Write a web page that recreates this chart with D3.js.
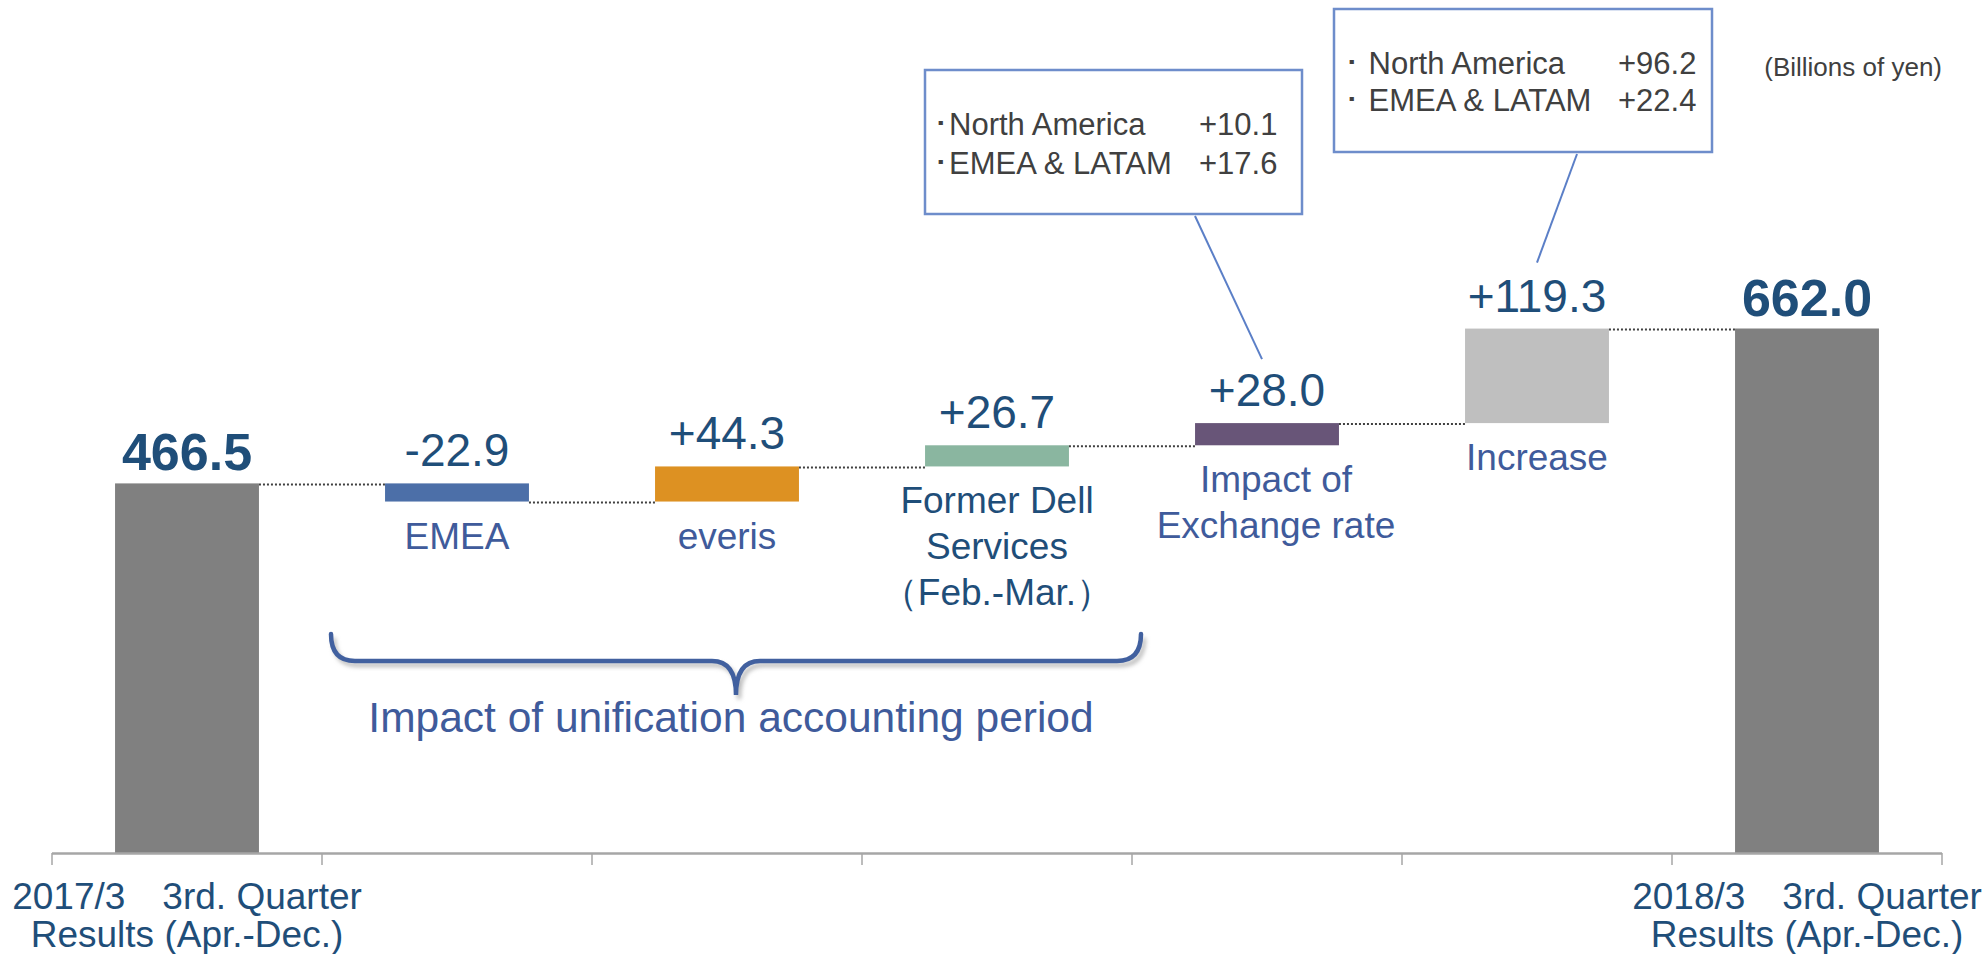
<!DOCTYPE html>
<html>
<head>
<meta charset="utf-8">
<script src="https://cdn.jsdelivr.net/npm/d3@7"></script>
<style>
  body { margin: 0; background: #fff; }
  svg { display: block; font-family: "Liberation Sans", Arial, sans-serif; }
</style>
</head>
<body>
<script>
// waterfall data
var categories = ["start", "EMEA", "everis", "Dell", "FX", "Increase", "end"];
var labelLines = [
  ["2017/3\u30003rd. Quarter", "Results (Apr.-Dec.)"],
  ["EMEA"],
  ["everis"],
  ["Former Dell", "Services", "\uFF08Feb.-Mar.\uFF09"],
  ["Impact of", "Exchange rate"],
  ["Increase"],
  ["2018/3\u30003rd. Quarter", "Results (Apr.-Dec.)"]
];
var values = [466.5, -22.9, 44.3, 26.7, 28.0, 119.3, 662.0];
var isTotal = [true, false, false, false, false, false, true];
var valueLabels = ["466.5", "-22.9", "+44.3", "+26.7", "+28.0", "+119.3", "662.0"];

// callout breakdowns
var fxRegions = ["North America", "EMEA & LATAM"];
var fxValues = ["+10.1", "+17.6"];
var incRegions = ["North America", "EMEA & LATAM"];
var incValues = ["+96.2", "+22.4"];

var unitLabel = "(Billions of yen)";
var braceLabel = "Impact of unification accounting period";

var width = 1987, height = 954;

var svg = d3.select("body").append("svg")
    .attr("width", width)
    .attr("height", height);

var x = d3.scaleBand()
    .domain(categories)
    .range([52, 1942])
    .paddingInner(0.467)
    .paddingOuter(0.2335);

var y = d3.scaleLinear()
    .domain([0, 662])
    .range([853, 328.5]);

var color = d3.scaleOrdinal()
    .domain(categories)
    .range(["#808080", "#4C6FA8", "#DD9122", "#8AB6A0", "#685578", "#BFBFBF", "#808080"]);

// running totals
var running = 0;
var bars = categories.map(function(c, i) {
  var lo, hi;
  if (isTotal[i]) {
    lo = 0; hi = values[i]; running = values[i];
  } else {
    var prev = running;
    running = prev + values[i];
    lo = Math.min(prev, running); hi = Math.max(prev, running);
  }
  return { cat: c, lo: lo, hi: hi, end: running, i: i };
});

var bw = x.bandwidth();
var gap = x.step() - bw;

// connectors
svg.append("g").selectAll("line")
    .data(bars.slice(0, -1))
    .enter().append("line")
    .attr("x1", function(d) { return x(d.cat) + bw; })
    .attr("x2", function(d) { return x(categories[d.i + 1]); })
    .attr("y1", function(d) { return y(d.end) + 1; })
    .attr("y2", function(d) { return y(d.end) + 1; })
    .attr("stroke", "#404040")
    .attr("stroke-width", 2)
    .attr("stroke-dasharray", "2 2");

// bars
svg.append("g").selectAll("rect")
    .data(bars)
    .enter().append("rect")
    .attr("x", function(d) { return x(d.cat); })
    .attr("width", bw)
    .attr("y", function(d) { return y(d.hi); })
    .attr("height", function(d) { return y(d.lo) - y(d.hi); })
    .attr("fill", function(d) { return color(d.cat); });

// axis line + ticks at band boundaries
var ticks = d3.range(categories.length + 1).map(function(k) {
  return x.range()[0] + k * x.step();
});
var axis = svg.append("g");
axis.append("line")
    .attr("x1", ticks[0]).attr("x2", ticks[ticks.length - 1])
    .attr("y1", y(0) + 0.5).attr("y2", y(0) + 0.5)
    .attr("stroke", "#A6A6A6").attr("stroke-width", 2.5);
axis.selectAll("line.tick")
    .data(ticks)
    .enter().append("line")
    .attr("class", "tick")
    .attr("x1", function(d) { return d; }).attr("x2", function(d) { return d; })
    .attr("y1", y(0)).attr("y2", y(0) + 12)
    .attr("stroke", "#A6A6A6").attr("stroke-width", 1.5);

// value labels
svg.append("g").selectAll("text")
    .data(bars)
    .enter().append("text")
    .attr("x", function(d) { return x(d.cat) + bw / 2; })
    .attr("y", function(d) { return y(d.hi) - (isTotal[d.i] ? 13 : 17); })
    .attr("text-anchor", "middle")
    .attr("fill", "#1F4E79")
    .style("font-size", function(d) { return isTotal[d.i] ? "52px" : "46px"; })
    .style("font-weight", function(d) { return isTotal[d.i] ? "bold" : "normal"; })
    .text(function(d) { return valueLabels[d.i]; });

// category labels
var catG = svg.append("g").selectAll("text")
    .data(bars)
    .enter().append("text")
    .attr("text-anchor", "middle")
    .style("font-size", "37px")
    .attr("fill", function(d) {
      return (isTotal[d.i] || d.cat === "Dell") ? "#1F4E79" : "#3F5B9B";
    });
catG.each(function(d) {
  var t = d3.select(this);
  var cx = x(d.cat) + bw / 2 + (d.cat === "FX" ? 9 : 0);
  var y0 = isTotal[d.i] ? 909 : y(d.lo) + 47;
  var lh = isTotal[d.i] ? 38 : 46;
  labelLines[d.i].forEach(function(line, k) {
    t.append("tspan").attr("x", cx).attr("y", y0 + k * lh).text(line);
  });
});

// brace under the unification items
var defs = svg.append("defs");
defs.append("filter").attr("id", "shadow")
    .attr("x", "-5%").attr("y", "-50%").attr("width", "110%").attr("height", "200%")
  .append("feGaussianBlur").attr("stdDeviation", 2);

var bx0 = x("EMEA") - gap / 2 + 9;
var bx1 = x("Dell") + bw + gap / 2 + 9;
var bmid = (bx0 + bx1) / 2;
var btop = 634, bline = 661, btip = 695, r = 24;
var bracePath = "M" + bx0 + "," + btop +
    " Q" + bx0 + "," + bline + " " + (bx0 + r) + "," + bline +
    " L" + (bmid - r) + "," + bline +
    " Q" + bmid + "," + bline + " " + bmid + "," + btip +
    " Q" + bmid + "," + bline + " " + (bmid + r) + "," + bline +
    " L" + (bx1 - r) + "," + bline +
    " Q" + bx1 + "," + bline + " " + bx1 + "," + btop;
svg.append("path")
    .attr("d", bracePath)
    .attr("transform", "translate(3,4)")
    .attr("fill", "none").attr("stroke", "#B8B8B8").attr("stroke-width", 4)
    .attr("filter", "url(#shadow)");
svg.append("path")
    .attr("d", bracePath)
    .attr("fill", "none").attr("stroke", "#41609F").attr("stroke-width", 4.5)
    .attr("stroke-linecap", "round");
svg.append("text")
    .attr("x", bmid - 5).attr("y", 732)
    .attr("text-anchor", "middle")
    .attr("fill", "#3F5B9B")
    .style("font-size", "42.5px")
    .text(braceLabel);

// callout boxes
function callout(box, names, vals, nameX, valX, baseY, lh, target) {
  var g = svg.append("g");
  g.append("line")
      .attr("x1", box.lx).attr("y1", box.y + box.h + 2)
      .attr("x2", target[0]).attr("y2", target[1])
      .attr("stroke", "#5B7FC7").attr("stroke-width", 2);
  g.append("rect")
      .attr("x", box.x).attr("y", box.y)
      .attr("width", box.w).attr("height", box.h)
      .attr("fill", "#fff").attr("stroke", "#6E8DCB").attr("stroke-width", 2.5);
  names.forEach(function(n, k) {
    var yy = baseY + k * lh;
    g.append("text").attr("x", nameX).attr("y", yy)
        .attr("fill", "#404040").style("font-size", "31px").text(n);
    g.append("text").attr("x", valX).attr("y", yy)
        .attr("fill", "#404040").style("font-size", "31px").text(vals[k]);
  });
}

var fxBar = bars[4], incBar = bars[5];
callout({ x: 925, y: 70, w: 377, h: 144, lx: 1195 },
    fxRegions.map(function(n) { return "\uFF65" + n; }), fxValues,
    933, 1199, 135, 39, [x("FX") + bw / 2 - 5, y(fxBar.hi) - 64]);
callout({ x: 1334, y: 9, w: 378, h: 143, lx: 1577 },
    incRegions.map(function(n) { return "\uFF65 " + n; }), incValues,
    1344, 1618, 74, 37, [x("Increase") + bw / 2, y(incBar.hi) - 66]);

// unit label
svg.append("text")
    .attr("x", 1942).attr("y", 76)
    .attr("text-anchor", "end")
    .attr("fill", "#404040")
    .style("font-size", "26px")
    .text(unitLabel);
</script>
</body>
</html>
